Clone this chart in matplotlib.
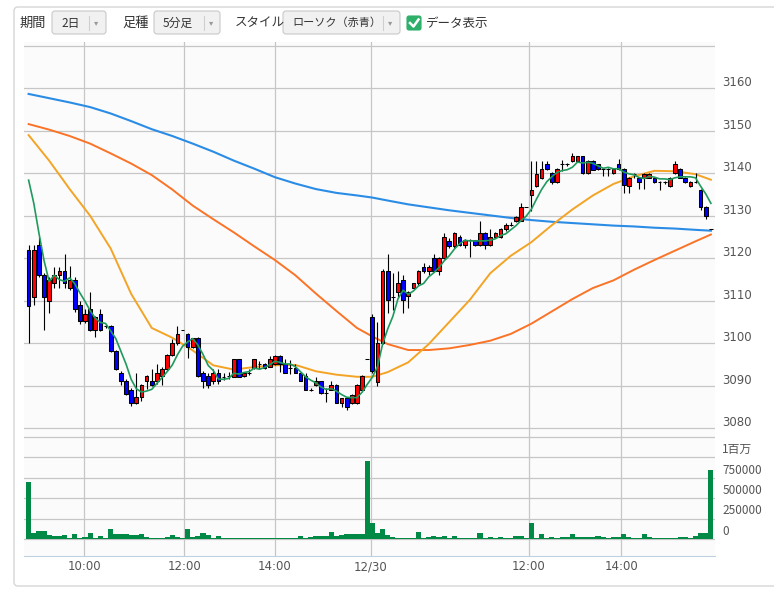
import numpy as np
import pandas as pd
import matplotlib
matplotlib.use('Agg')
import matplotlib.pyplot as plt
from matplotlib.patches import FancyBboxPatch
from matplotlib.lines import Line2D

plt.rcParams['font.family'] = ['Noto Sans CJK JP', 'DejaVu Sans']

# ---- 5-minute candles, 12/27 (idx 0-66) and 12/30 (idx 67-133) ----
opens = [3122.0, 3110.9, 3123.2, 3116.1, 3110.0, 3114.1, 3116.0, 3116.9, 3112.9, 3115.0,
         3108.9, 3105.2, 3108.0, 3103.1, 3107.0, 3104.0, 3104.0, 3098.2, 3093.0, 3091.0,
         3089.1, 3086.0, 3087.3, 3091.0, 3091.0, 3091.0, 3092.2, 3094.0, 3097.2, 3100.0,
         3103.1, 3102.1, 3099.1, 3101.2, 3093.1, 3092.3, 3091.1, 3093.1, 3092.0, 3092.2,
         3092.1, 3096.3, 3092.2, 3093.0, 3094.1, 3095.0, 3095.0, 3094.5, 3095.0, 3097.1,
         3095.0, 3094.1, 3094.1, 3093.1, 3092.2, 3089.1, 3090.2, 3091.0, 3088.2, 3089.1,
         3090.2, 3086.0, 3087.0, 3086.0, 3086.0, 3089.1, 3096.2,
         3106.1, 3090.9, 3100.0, 3116.9, 3111.0, 3112.0, 3115.0, 3111.1, 3113.1, 3114.1,
         3118.0, 3117.0, 3120.0, 3117.0, 3120.0, 3124.0, 3123.0, 3125.0, 3123.1, 3124.2,
         3124.2, 3123.1, 3125.9, 3123.1, 3125.0, 3125.0, 3126.9, 3127.9, 3128.9, 3128.9,
         3132.0, 3135.0, 3137.0, 3138.9, 3142.1, 3140.0, 3137.9, 3142.1, 3142.1, 3142.9,
         3142.9, 3144.0, 3140.0, 3142.9, 3142.1, 3141.1, 3141.1, 3140.0, 3142.1, 3141.1,
         3137.0, 3139.9, 3139.0, 3139.0, 3139.0, 3139.0, 3137.9, 3137.9, 3137.0, 3140.0,
         3141.1, 3139.0, 3137.0, 3137.9, 3136.0, 3132.1, 3126.8]
highs = [3123.2, 3123.2, 3125.1, 3116.5, 3115.7, 3118.0, 3118.0, 3121.0, 3118.2, 3115.5,
         3110.0, 3108.0, 3112.0, 3106.5, 3108.0, 3104.5, 3104.3, 3098.5, 3093.5, 3091.5,
         3089.5, 3093.0, 3090.5, 3092.6, 3094.0, 3095.0, 3094.5, 3097.5, 3101.1, 3104.0,
         3103.1, 3102.3, 3101.3, 3101.4, 3093.4, 3093.0, 3094.0, 3094.0, 3093.0, 3093.2,
         3096.4, 3096.4, 3093.3, 3094.0, 3096.4, 3095.8, 3095.3, 3097.0, 3097.2, 3097.2,
         3096.2, 3096.0, 3095.0, 3093.3, 3093.0, 3089.5, 3092.1, 3091.2, 3089.4, 3091.0,
         3090.4, 3087.2, 3087.2, 3088.0, 3090.4, 3092.5, 3096.2,
         3107.0, 3105.0, 3117.5, 3121.0, 3116.5, 3117.0, 3116.0, 3112.3, 3114.3, 3117.2,
         3118.8, 3118.5, 3121.0, 3120.3, 3126.0, 3124.8, 3126.2, 3125.5, 3124.5, 3124.5,
         3124.4, 3128.9, 3126.2, 3126.9, 3126.2, 3127.2, 3128.2, 3128.5, 3130.0, 3133.1,
         3132.0, 3142.9, 3142.9, 3142.9, 3142.9, 3140.3, 3141.3, 3143.2, 3142.5, 3144.9,
         3144.2, 3144.2, 3143.1, 3143.1, 3142.3, 3141.3, 3141.3, 3141.3, 3143.3, 3141.3,
         3139.2, 3140.2, 3139.2, 3140.1, 3140.1, 3139.2, 3138.1, 3138.1, 3139.2, 3142.9,
         3141.3, 3139.2, 3138.1, 3140.2, 3136.2, 3132.3, 3126.8]
lows = [3100.1, 3109.0, 3115.5, 3103.2, 3107.2, 3113.1, 3113.1, 3113.1, 3112.5, 3107.3,
        3104.5, 3104.8, 3102.8, 3101.4, 3102.8, 3103.5, 3098.0, 3093.8, 3090.1, 3087.8,
        3085.2, 3085.8, 3086.3, 3089.3, 3089.9, 3090.5, 3090.1, 3093.5, 3097.0, 3099.5,
        3103.1, 3096.5, 3098.8, 3092.0, 3089.4, 3089.4, 3090.5, 3090.5, 3091.4, 3091.6,
        3092.0, 3092.0, 3092.0, 3092.6, 3094.0, 3094.0, 3094.0, 3094.3, 3094.8, 3093.3,
        3093.0, 3092.8, 3093.0, 3091.0, 3089.0, 3088.8, 3090.0, 3088.0, 3086.2, 3088.9,
        3086.0, 3085.0, 3084.3, 3085.8, 3085.8, 3088.9, 3096.2,
        3093.0, 3090.0, 3099.8, 3107.2, 3107.8, 3111.0, 3107.2, 3108.2, 3112.9, 3113.8,
        3116.5, 3116.0, 3116.8, 3116.0, 3119.8, 3122.5, 3122.5, 3122.8, 3122.5, 3120.4,
        3122.8, 3122.9, 3122.3, 3122.8, 3124.7, 3124.8, 3126.5, 3127.5, 3128.6, 3128.7,
        3132.0, 3131.2, 3136.8, 3138.7, 3140.8, 3137.6, 3137.7, 3140.5, 3141.8, 3142.7,
        3142.7, 3139.8, 3139.8, 3140.7, 3140.9, 3139.4, 3139.4, 3139.8, 3140.9, 3135.3,
        3135.3, 3139.0, 3136.3, 3136.3, 3138.8, 3137.7, 3136.0, 3137.5, 3136.8, 3139.8,
        3138.8, 3137.7, 3136.8, 3137.7, 3131.4, 3129.3, 3126.8]
closes = [3108.8, 3122.0, 3116.1, 3110.9, 3115.0, 3116.0, 3116.9, 3114.1, 3115.0, 3108.0,
          3105.2, 3107.0, 3103.1, 3106.1, 3103.1, 3104.0, 3098.2, 3094.0, 3091.0, 3088.1,
          3086.0, 3087.3, 3090.1, 3092.2, 3090.1, 3093.0, 3094.0, 3097.2, 3100.0, 3102.1,
          3103.1, 3099.1, 3101.2, 3092.3, 3091.1, 3090.2, 3093.1, 3091.1, 3092.0, 3092.2,
          3096.3, 3092.1, 3093.0, 3093.0, 3096.3, 3095.0, 3094.1, 3096.3, 3097.1, 3095.0,
          3093.1, 3094.1, 3093.1, 3091.1, 3089.1, 3089.1, 3091.0, 3088.2, 3088.2, 3090.2,
          3086.0, 3087.0, 3085.0, 3087.8, 3090.2, 3092.3, 3096.2,
          3093.5, 3100.0, 3116.9, 3110.2, 3111.0, 3114.1, 3110.2, 3112.1, 3114.1, 3117.0,
          3117.0, 3118.0, 3117.0, 3120.0, 3125.0, 3123.0, 3125.9, 3123.1, 3124.2, 3124.2,
          3123.1, 3125.9, 3123.1, 3125.0, 3125.9, 3126.9, 3127.9, 3127.9, 3129.8, 3132.0,
          3132.0, 3136.0, 3139.9, 3141.1, 3141.1, 3137.9, 3141.1, 3142.1, 3142.1, 3144.0,
          3144.0, 3140.0, 3142.9, 3140.9, 3141.1, 3141.1, 3141.1, 3141.1, 3141.1, 3137.2,
          3139.0, 3139.9, 3137.9, 3139.9, 3139.9, 3137.9, 3137.9, 3137.9, 3139.0, 3142.1,
          3139.0, 3137.9, 3137.9, 3137.9, 3132.1, 3130.0, 3126.8]

# volume, thousands of shares
volume_k = [700, 75, 96, 96, 50, 38, 38, 50, 12, 58, 14, 29, 71, 17, 33, 12, 121, 58, 58, 58,
            46, 46, 58, 21, 17, 14, 14, 25, 46, 21, 10, 121, 25, 33, 71, 46, 12, 33, 12, 17,
            12, 17, 10, 10, 10, 17, 12, 12, 17, 17, 10, 10, 17, 42, 17, 25, 33, 38, 38, 83,
            38, 50, 58, 58, 58, 58, 950,
            200, 71, 117, 50, 29, 17, 12, 10, 10, 83, 12, 21, 33, 21, 42, 10, 33, 10, 10,
            10, 10, 71, 14, 25, 12, 21, 12, 12, 42, 33, 12, 200, 12, 58, 17, 29, 10, 29, 29,
            58, 21, 21, 21, 21, 33, 21, 12, 21, 21, 58, 25, 12, 17, 58, 25, 12, 17, 10, 10,
            17, 25, 21, 14, 37, 71, 79, 846]

ma_idx = [0, 4, 8, 12, 16, 20, 24, 28, 32, 36, 40, 44, 48, 52, 56, 60, 64, 67, 70, 74,
          78, 82, 86, 90, 94, 98, 102, 106, 110, 114, 118, 122, 126, 130, 133]
ma_gold = [3149.0, 3143.0, 3136.3, 3130.0, 3122.3, 3111.6, 3103.6, 3101.3, 3098.3, 3094.8,
           3093.8, 3094.4, 3094.8, 3094.9, 3093.4, 3092.6, 3092.1, 3092.1, 3093.2, 3095.5,
           3099.8, 3105.0, 3110.2, 3116.5, 3120.6, 3123.8, 3127.8, 3131.5, 3134.8, 3137.5,
           3139.3, 3140.6, 3140.5, 3139.8, 3138.5]
ma_orange = [3151.6, 3150.3, 3148.8, 3147.0, 3144.7, 3142.3, 3139.6, 3136.2, 3132.4, 3129.2,
             3126.1, 3122.8, 3119.6, 3116.0, 3111.7, 3107.6, 3103.6, 3101.6, 3099.8, 3098.4,
             3098.4, 3098.8, 3099.6, 3100.6, 3102.2, 3104.6, 3107.5, 3110.4, 3113.0, 3114.8,
             3117.3, 3119.6, 3121.8, 3124.0, 3125.6]
ma_blue = [3158.7, 3157.7, 3156.7, 3155.6, 3154.1, 3152.3, 3150.4, 3148.8, 3147.0, 3145.1,
           3143.0, 3141.1, 3139.1, 3137.6, 3136.3, 3135.4, 3134.8, 3134.3, 3133.6, 3132.7,
           3132.0, 3131.3, 3130.7, 3130.1, 3129.5, 3129.0, 3128.6, 3128.3, 3128.0, 3127.7,
           3127.5, 3127.2, 3127.0, 3126.7, 3126.5]
ma5_head = [3138.4, 3133.0, 3126.0, 3119.5]

time_labels = ['10:00', '12:00', '14:00', '12/30', '12:00', '14:00']
time_pos = [10.8, 30.3, 48.0, 66.7, 97.5, 115.5]
price_ticks = [3080, 3090, 3100, 3110, 3120, 3130, 3140, 3150, 3160, 3170]
vol_ticks = [0, 250000, 500000, 750000, 1000000, 1250000]
vol_labels = ['0', '250000', '500000', '750000', '1百万', '']

x = np.arange(len(closes))
o = np.array(opens); c = np.array(closes)
ma5 = pd.Series(closes).rolling(5).mean().values
ma5[:4] = ma5_head

W, H = 774, 589
fig = plt.figure(figsize=(W / 100, H / 100), dpi=100)
fig.patch.set_facecolor('white')

# background / header drawn in pixel coordinates
bg = fig.add_axes([0, 0, 1, 1], zorder=0)
bg.set_xlim(0, W); bg.set_ylim(H, 0); bg.axis('off')
bg.add_patch(FancyBboxPatch((14, 7), 800, 579, boxstyle='round,pad=0,rounding_size=4',
                            fc='white', ec='#d6d6d6', lw=1))
tc = '#333333'
bg.text(20, 23, '期間', fontsize=9.5, color=tc, va='center')
bg.text(122, 23, '足種', fontsize=9.5, color=tc, va='center')
bg.text(235, 23, 'スタイル', fontsize=9, color=tc, va='center')
bg.text(426, 23, 'データ表示', fontsize=9, color=tc, va='center')
for bx, bw, label, sep in [(52, 54, '2日', 89), (154, 66, '5分足', 204), (283, 117, 'ローソク（赤青）', 383)]:
    bg.add_patch(FancyBboxPatch((bx, 11), bw, 23, boxstyle='round,pad=0,rounding_size=3',
                                fc='#f1f1f1', ec='#c9c9c9', lw=0.8))
    bg.text(bx + 9, 23, label, fontsize=8.5 if len(label) < 5 else 8, color=tc, va='center')
    bg.plot([sep, sep], [16, 30], color='#cfcfcf', lw=0.8)
    bg.text(sep + 7, 23, '▾', fontsize=6, color='#999999', va='center', ha='center')
bg.add_patch(FancyBboxPatch((407, 16), 14, 14, boxstyle='round,pad=0,rounding_size=2',
                            fc='#2eaf6a', ec='#2eaf6a', lw=0.8))
bg.add_line(Line2D([410, 413.5, 418.5], [23, 26.5, 19.5], color='white', lw=1.8))

# price axes
def fy(py):
    return 1 - py / H

left, right = 24, 715
ax = fig.add_axes([left / W, fy(433), (right - left) / W, (433 - 42) / H], zorder=1)
ax.set_facecolor('#fbfbfb')
ax.set_xlim(-0.9, 133.8)
ax.set_ylim(3120 - (433 - 258.3) / 4.247, 3120 + (258.3 - 42) / 4.247)
ax.set_yticks(price_ticks)
ax.set_xticks(time_pos)
ax.grid(True, color='#c6c6c6', lw=0.9)
ax.set_axisbelow(True)
ax.tick_params(length=0, labelbottom=False, labelleft=False)
for s in ax.spines.values():
    s.set_visible(False)
for p in price_ticks[:-1]:
    ax.text(1.0105, p - 0.2, str(p), transform=ax.get_yaxis_transform(), fontsize=8.5,
            color='#555555', va='bottom', ha='left', family='DejaVu Sans')

ax.plot(ma_idx, ma_blue, color='#2b8ce6', lw=1.5, zorder=2)
ax.plot(ma_idx, ma_orange, color='#fb7326', lw=1.4, zorder=2)
ax.plot(ma_idx, ma_gold, color='#f4a425', lw=1.4, zorder=2)

colors = np.where(c > o, '#ff0000', '#0000ff')
ax.vlines(x, lows, highs, color='black', lw=0.8, zorder=3)
ax.bar(x, c - o, bottom=o, width=0.72, color=colors, edgecolor='black', lw=0.75, zorder=4)
ax.plot(x, ma5, color='#1f9a5c', lw=1.2, zorder=5)

# volume axes
vax = fig.add_axes([left / W, fy(556), (right - left) / W, (556 - 433) / H], zorder=1)
vax.set_facecolor('#fbfbfb')
vax.set_xlim(-0.9, 133.8)
vpx = 250000 / 20.4
vax.set_ylim(-(556 - 539) * vpx, (539 - 433) * vpx)
vax.bar(x, np.array(volume_k) * 1000, width=1.0, color='#008a45', lw=0, zorder=3)
vax.set_yticks(vol_ticks)
vax.set_xticks(time_pos)
vax.set_xticklabels(time_labels, fontsize=8.5, color='#555555', family='DejaVu Sans')
vax.grid(True, color='#c6c6c6', lw=0.9)
vax.set_axisbelow(True)
vax.tick_params(length=0, labelleft=False, pad=3)
for k, s in vax.spines.items():
    s.set_visible(k == 'bottom')
vax.spines['bottom'].set_color('#bfd0e0')
for v, lab in zip(vol_ticks, vol_labels):
    if lab:
        vax.text(1.0105, v + 15000, lab, transform=vax.get_yaxis_transform(), fontsize=8.5,
                 color='#555555', va='bottom', ha='left')

fig.savefig('out.png', dpi=100)
